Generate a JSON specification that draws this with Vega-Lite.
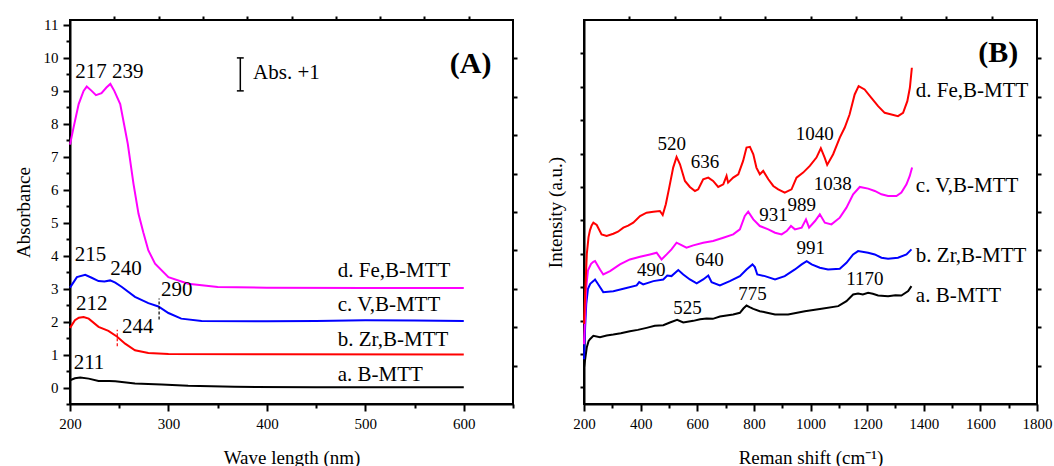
{
  "$schema": "https://vega.github.io/schema/vega-lite/v6.json",
  "padding": {"left": 13, "top": 14, "right": 0, "bottom": 0},
  "spacing": 26,
  "resolve": {"scale": {"color": "independent"}},
  "datasets": {
    "uv": [
      {"sample": "Fe,B-MTT", "nm": 200, "abs": 7.37}, {"sample": "Fe,B-MTT", "nm": 203.7, "abs": 7.9}, {"sample": "Fe,B-MTT", "nm": 208.8, "abs": 8.6}, {"sample": "Fe,B-MTT", "nm": 213.8, "abs": 9.0}, {"sample": "Fe,B-MTT", "nm": 217, "abs": 9.13}, {"sample": "Fe,B-MTT", "nm": 222, "abs": 9.0}, {"sample": "Fe,B-MTT", "nm": 226.4, "abs": 8.87}, {"sample": "Fe,B-MTT", "nm": 232, "abs": 8.93}, {"sample": "Fe,B-MTT", "nm": 237, "abs": 9.1}, {"sample": "Fe,B-MTT", "nm": 241, "abs": 9.21}, {"sample": "Fe,B-MTT", "nm": 245, "abs": 9.0}, {"sample": "Fe,B-MTT", "nm": 251, "abs": 8.6}, {"sample": "Fe,B-MTT", "nm": 258.7, "abs": 7.39}, {"sample": "Fe,B-MTT", "nm": 264.5, "abs": 6.18}, {"sample": "Fe,B-MTT", "nm": 269.6, "abs": 5.27}, {"sample": "Fe,B-MTT", "nm": 274.5, "abs": 4.7}, {"sample": "Fe,B-MTT", "nm": 279.6, "abs": 4.16}, {"sample": "Fe,B-MTT", "nm": 286.4, "abs": 3.76}, {"sample": "Fe,B-MTT", "nm": 300, "abs": 3.35}, {"sample": "Fe,B-MTT", "nm": 320, "abs": 3.15}, {"sample": "Fe,B-MTT", "nm": 350, "abs": 3.05}, {"sample": "Fe,B-MTT", "nm": 400, "abs": 3.03}, {"sample": "Fe,B-MTT", "nm": 500, "abs": 3.02}, {"sample": "Fe,B-MTT", "nm": 600, "abs": 3.02},
      {"sample": "V,B-MTT", "nm": 200, "abs": 3.03}, {"sample": "V,B-MTT", "nm": 207, "abs": 3.35}, {"sample": "V,B-MTT", "nm": 215.5, "abs": 3.42}, {"sample": "V,B-MTT", "nm": 222, "abs": 3.33}, {"sample": "V,B-MTT", "nm": 229, "abs": 3.23}, {"sample": "V,B-MTT", "nm": 235, "abs": 3.22}, {"sample": "V,B-MTT", "nm": 240.8, "abs": 3.25}, {"sample": "V,B-MTT", "nm": 246, "abs": 3.18}, {"sample": "V,B-MTT", "nm": 252.7, "abs": 3.05}, {"sample": "V,B-MTT", "nm": 266, "abs": 2.75}, {"sample": "V,B-MTT", "nm": 279.6, "abs": 2.56}, {"sample": "V,B-MTT", "nm": 289.8, "abs": 2.46}, {"sample": "V,B-MTT", "nm": 300, "abs": 2.26}, {"sample": "V,B-MTT", "nm": 313, "abs": 2.09}, {"sample": "V,B-MTT", "nm": 333.7, "abs": 2.02}, {"sample": "V,B-MTT", "nm": 400, "abs": 2.01}, {"sample": "V,B-MTT", "nm": 450, "abs": 2.02}, {"sample": "V,B-MTT", "nm": 500, "abs": 2.04}, {"sample": "V,B-MTT", "nm": 550, "abs": 2.03}, {"sample": "V,B-MTT", "nm": 600, "abs": 2.02},
      {"sample": "Zr,B-MTT", "nm": 200, "abs": 1.81}, {"sample": "Zr,B-MTT", "nm": 205, "abs": 2.04}, {"sample": "Zr,B-MTT", "nm": 209, "abs": 2.12}, {"sample": "Zr,B-MTT", "nm": 213.8, "abs": 2.14}, {"sample": "Zr,B-MTT", "nm": 219, "abs": 2.09}, {"sample": "Zr,B-MTT", "nm": 229, "abs": 1.84}, {"sample": "Zr,B-MTT", "nm": 239, "abs": 1.72}, {"sample": "Zr,B-MTT", "nm": 247.6, "abs": 1.55}, {"sample": "Zr,B-MTT", "nm": 256, "abs": 1.33}, {"sample": "Zr,B-MTT", "nm": 266, "abs": 1.13}, {"sample": "Zr,B-MTT", "nm": 279.6, "abs": 1.05}, {"sample": "Zr,B-MTT", "nm": 300, "abs": 1.02}, {"sample": "Zr,B-MTT", "nm": 400, "abs": 1.01}, {"sample": "Zr,B-MTT", "nm": 600, "abs": 1.0},
      {"sample": "B-MTT", "nm": 200, "abs": 0.22}, {"sample": "B-MTT", "nm": 205, "abs": 0.28}, {"sample": "B-MTT", "nm": 210.4, "abs": 0.3}, {"sample": "B-MTT", "nm": 219, "abs": 0.27}, {"sample": "B-MTT", "nm": 229, "abs": 0.2}, {"sample": "B-MTT", "nm": 240, "abs": 0.2}, {"sample": "B-MTT", "nm": 246, "abs": 0.19}, {"sample": "B-MTT", "nm": 266, "abs": 0.12}, {"sample": "B-MTT", "nm": 293, "abs": 0.09}, {"sample": "B-MTT", "nm": 320, "abs": 0.05}, {"sample": "B-MTT", "nm": 367, "abs": 0.02}, {"sample": "B-MTT", "nm": 450, "abs": 0.01}, {"sample": "B-MTT", "nm": 600, "abs": 0.01}
    ],
    "raman": [
      {"sample": "B-MTT", "shift": 200, "i": 0.59}, {"sample": "B-MTT", "shift": 205, "i": 0.9}, {"sample": "B-MTT", "shift": 210, "i": 1.2}, {"sample": "B-MTT", "shift": 216, "i": 1.38}, {"sample": "B-MTT", "shift": 221, "i": 1.44}, {"sample": "B-MTT", "shift": 233, "i": 1.54}, {"sample": "B-MTT", "shift": 256.5, "i": 1.5}, {"sample": "B-MTT", "shift": 280, "i": 1.55}, {"sample": "B-MTT", "shift": 303.5, "i": 1.58}, {"sample": "B-MTT", "shift": 330, "i": 1.62}, {"sample": "B-MTT", "shift": 362, "i": 1.68}, {"sample": "B-MTT", "shift": 390, "i": 1.72}, {"sample": "B-MTT", "shift": 421, "i": 1.78}, {"sample": "B-MTT", "shift": 450, "i": 1.84}, {"sample": "B-MTT", "shift": 480, "i": 1.86}, {"sample": "B-MTT", "shift": 503.5, "i": 1.94}, {"sample": "B-MTT", "shift": 529, "i": 2.02}, {"sample": "B-MTT", "shift": 550.6, "i": 1.94}, {"sample": "B-MTT", "shift": 586, "i": 1.99}, {"sample": "B-MTT", "shift": 610, "i": 2.04}, {"sample": "B-MTT", "shift": 633, "i": 2.06}, {"sample": "B-MTT", "shift": 655, "i": 2.05}, {"sample": "B-MTT", "shift": 680, "i": 2.12}, {"sample": "B-MTT", "shift": 727, "i": 2.18}, {"sample": "B-MTT", "shift": 750.6, "i": 2.23}, {"sample": "B-MTT", "shift": 763, "i": 2.36}, {"sample": "B-MTT", "shift": 774, "i": 2.45}, {"sample": "B-MTT", "shift": 785, "i": 2.4}, {"sample": "B-MTT", "shift": 798, "i": 2.35}, {"sample": "B-MTT", "shift": 821, "i": 2.28}, {"sample": "B-MTT", "shift": 839, "i": 2.25}, {"sample": "B-MTT", "shift": 874.7, "i": 2.18}, {"sample": "B-MTT", "shift": 921, "i": 2.18}, {"sample": "B-MTT", "shift": 980, "i": 2.28}, {"sample": "B-MTT", "shift": 1039, "i": 2.35}, {"sample": "B-MTT", "shift": 1098, "i": 2.43}, {"sample": "B-MTT", "shift": 1127, "i": 2.58}, {"sample": "B-MTT", "shift": 1150.6, "i": 2.78}, {"sample": "B-MTT", "shift": 1168, "i": 2.81}, {"sample": "B-MTT", "shift": 1185, "i": 2.78}, {"sample": "B-MTT", "shift": 1203.5, "i": 2.83}, {"sample": "B-MTT", "shift": 1220, "i": 2.8}, {"sample": "B-MTT", "shift": 1238.8, "i": 2.75}, {"sample": "B-MTT", "shift": 1274, "i": 2.73}, {"sample": "B-MTT", "shift": 1300, "i": 2.76}, {"sample": "B-MTT", "shift": 1321, "i": 2.75}, {"sample": "B-MTT", "shift": 1345, "i": 2.88}, {"sample": "B-MTT", "shift": 1356.5, "i": 3.03},
      {"sample": "Zr,B-MTT", "shift": 200, "i": 0.84}, {"sample": "Zr,B-MTT", "shift": 204, "i": 1.8}, {"sample": "Zr,B-MTT", "shift": 208, "i": 2.5}, {"sample": "Zr,B-MTT", "shift": 214, "i": 2.95}, {"sample": "Zr,B-MTT", "shift": 222, "i": 3.1}, {"sample": "Zr,B-MTT", "shift": 233, "i": 3.18}, {"sample": "Zr,B-MTT", "shift": 239, "i": 3.23}, {"sample": "Zr,B-MTT", "shift": 250.6, "i": 3.08}, {"sample": "Zr,B-MTT", "shift": 268, "i": 2.85}, {"sample": "Zr,B-MTT", "shift": 303.5, "i": 2.88}, {"sample": "Zr,B-MTT", "shift": 339, "i": 2.95}, {"sample": "Zr,B-MTT", "shift": 386, "i": 3.05}, {"sample": "Zr,B-MTT", "shift": 395, "i": 3.15}, {"sample": "Zr,B-MTT", "shift": 409, "i": 3.08}, {"sample": "Zr,B-MTT", "shift": 445, "i": 3.18}, {"sample": "Zr,B-MTT", "shift": 480, "i": 3.23}, {"sample": "Zr,B-MTT", "shift": 494, "i": 3.35}, {"sample": "Zr,B-MTT", "shift": 509, "i": 3.33}, {"sample": "Zr,B-MTT", "shift": 533, "i": 3.51}, {"sample": "Zr,B-MTT", "shift": 550.6, "i": 3.38}, {"sample": "Zr,B-MTT", "shift": 574, "i": 3.23}, {"sample": "Zr,B-MTT", "shift": 598, "i": 3.11}, {"sample": "Zr,B-MTT", "shift": 621, "i": 3.23}, {"sample": "Zr,B-MTT", "shift": 639, "i": 3.35}, {"sample": "Zr,B-MTT", "shift": 650.6, "i": 3.15}, {"sample": "Zr,B-MTT", "shift": 680, "i": 3.05}, {"sample": "Zr,B-MTT", "shift": 715, "i": 3.18}, {"sample": "Zr,B-MTT", "shift": 750.6, "i": 3.33}, {"sample": "Zr,B-MTT", "shift": 774, "i": 3.53}, {"sample": "Zr,B-MTT", "shift": 795, "i": 3.68}, {"sample": "Zr,B-MTT", "shift": 803.5, "i": 3.6}, {"sample": "Zr,B-MTT", "shift": 812, "i": 3.38}, {"sample": "Zr,B-MTT", "shift": 839, "i": 3.33}, {"sample": "Zr,B-MTT", "shift": 874.7, "i": 3.23}, {"sample": "Zr,B-MTT", "shift": 909, "i": 3.33}, {"sample": "Zr,B-MTT", "shift": 945, "i": 3.53}, {"sample": "Zr,B-MTT", "shift": 968.8, "i": 3.68}, {"sample": "Zr,B-MTT", "shift": 986.5, "i": 3.78}, {"sample": "Zr,B-MTT", "shift": 1004, "i": 3.68}, {"sample": "Zr,B-MTT", "shift": 1033, "i": 3.58}, {"sample": "Zr,B-MTT", "shift": 1062, "i": 3.53}, {"sample": "Zr,B-MTT", "shift": 1103.5, "i": 3.55}, {"sample": "Zr,B-MTT", "shift": 1127, "i": 3.73}, {"sample": "Zr,B-MTT", "shift": 1150.6, "i": 3.98}, {"sample": "Zr,B-MTT", "shift": 1168, "i": 4.08}, {"sample": "Zr,B-MTT", "shift": 1203.5, "i": 4.03}, {"sample": "Zr,B-MTT", "shift": 1227, "i": 3.98}, {"sample": "Zr,B-MTT", "shift": 1250.6, "i": 3.88}, {"sample": "Zr,B-MTT", "shift": 1274, "i": 3.85}, {"sample": "Zr,B-MTT", "shift": 1309, "i": 3.88}, {"sample": "Zr,B-MTT", "shift": 1339, "i": 3.98}, {"sample": "Zr,B-MTT", "shift": 1356.5, "i": 4.13},
      {"sample": "V,B-MTT", "shift": 200, "i": 1.29}, {"sample": "V,B-MTT", "shift": 204, "i": 2.2}, {"sample": "V,B-MTT", "shift": 208, "i": 3.0}, {"sample": "V,B-MTT", "shift": 214, "i": 3.5}, {"sample": "V,B-MTT", "shift": 225, "i": 3.7}, {"sample": "V,B-MTT", "shift": 233, "i": 3.76}, {"sample": "V,B-MTT", "shift": 239, "i": 3.78}, {"sample": "V,B-MTT", "shift": 256.5, "i": 3.53}, {"sample": "V,B-MTT", "shift": 268, "i": 3.38}, {"sample": "V,B-MTT", "shift": 292, "i": 3.48}, {"sample": "V,B-MTT", "shift": 327, "i": 3.68}, {"sample": "V,B-MTT", "shift": 362, "i": 3.83}, {"sample": "V,B-MTT", "shift": 398, "i": 3.91}, {"sample": "V,B-MTT", "shift": 433, "i": 3.98}, {"sample": "V,B-MTT", "shift": 456.5, "i": 4.03}, {"sample": "V,B-MTT", "shift": 474, "i": 3.83}, {"sample": "V,B-MTT", "shift": 492, "i": 3.98}, {"sample": "V,B-MTT", "shift": 509, "i": 4.13}, {"sample": "V,B-MTT", "shift": 527, "i": 4.33}, {"sample": "V,B-MTT", "shift": 539, "i": 4.28}, {"sample": "V,B-MTT", "shift": 562, "i": 4.18}, {"sample": "V,B-MTT", "shift": 586, "i": 4.25}, {"sample": "V,B-MTT", "shift": 621, "i": 4.33}, {"sample": "V,B-MTT", "shift": 656, "i": 4.38}, {"sample": "V,B-MTT", "shift": 692, "i": 4.48}, {"sample": "V,B-MTT", "shift": 727, "i": 4.58}, {"sample": "V,B-MTT", "shift": 750.6, "i": 4.73}, {"sample": "V,B-MTT", "shift": 768, "i": 5.13}, {"sample": "V,B-MTT", "shift": 780, "i": 5.26}, {"sample": "V,B-MTT", "shift": 798, "i": 5.03}, {"sample": "V,B-MTT", "shift": 821, "i": 4.83}, {"sample": "V,B-MTT", "shift": 851, "i": 4.73}, {"sample": "V,B-MTT", "shift": 874.7, "i": 4.63}, {"sample": "V,B-MTT", "shift": 898, "i": 4.58}, {"sample": "V,B-MTT", "shift": 915.9, "i": 4.68}, {"sample": "V,B-MTT", "shift": 931, "i": 4.83}, {"sample": "V,B-MTT", "shift": 945, "i": 4.73}, {"sample": "V,B-MTT", "shift": 968.8, "i": 4.78}, {"sample": "V,B-MTT", "shift": 984, "i": 5.03}, {"sample": "V,B-MTT", "shift": 995, "i": 4.78}, {"sample": "V,B-MTT", "shift": 1016, "i": 4.98}, {"sample": "V,B-MTT", "shift": 1033, "i": 5.18}, {"sample": "V,B-MTT", "shift": 1050.6, "i": 4.93}, {"sample": "V,B-MTT", "shift": 1074, "i": 4.88}, {"sample": "V,B-MTT", "shift": 1103.5, "i": 5.08}, {"sample": "V,B-MTT", "shift": 1127, "i": 5.38}, {"sample": "V,B-MTT", "shift": 1150.6, "i": 5.78}, {"sample": "V,B-MTT", "shift": 1174, "i": 6.0}, {"sample": "V,B-MTT", "shift": 1203.5, "i": 5.95}, {"sample": "V,B-MTT", "shift": 1227, "i": 5.88}, {"sample": "V,B-MTT", "shift": 1250.6, "i": 5.78}, {"sample": "V,B-MTT", "shift": 1274, "i": 5.73}, {"sample": "V,B-MTT", "shift": 1303.5, "i": 5.73}, {"sample": "V,B-MTT", "shift": 1321, "i": 5.83}, {"sample": "V,B-MTT", "shift": 1339, "i": 6.08}, {"sample": "V,B-MTT", "shift": 1350.6, "i": 6.33}, {"sample": "V,B-MTT", "shift": 1358.8, "i": 6.58},
      {"sample": "Fe,B-MTT", "shift": 200, "i": 1.9}, {"sample": "Fe,B-MTT", "shift": 205, "i": 3.0}, {"sample": "Fe,B-MTT", "shift": 210, "i": 4.0}, {"sample": "Fe,B-MTT", "shift": 216, "i": 4.5}, {"sample": "Fe,B-MTT", "shift": 221, "i": 4.7}, {"sample": "Fe,B-MTT", "shift": 227, "i": 4.85}, {"sample": "Fe,B-MTT", "shift": 233, "i": 4.93}, {"sample": "Fe,B-MTT", "shift": 245, "i": 4.86}, {"sample": "Fe,B-MTT", "shift": 262, "i": 4.58}, {"sample": "Fe,B-MTT", "shift": 280, "i": 4.53}, {"sample": "Fe,B-MTT", "shift": 303.5, "i": 4.6}, {"sample": "Fe,B-MTT", "shift": 320, "i": 4.66}, {"sample": "Fe,B-MTT", "shift": 339, "i": 4.78}, {"sample": "Fe,B-MTT", "shift": 356, "i": 4.84}, {"sample": "Fe,B-MTT", "shift": 374, "i": 4.93}, {"sample": "Fe,B-MTT", "shift": 398, "i": 5.13}, {"sample": "Fe,B-MTT", "shift": 421, "i": 5.23}, {"sample": "Fe,B-MTT", "shift": 445, "i": 5.26}, {"sample": "Fe,B-MTT", "shift": 468, "i": 5.28}, {"sample": "Fe,B-MTT", "shift": 478, "i": 5.16}, {"sample": "Fe,B-MTT", "shift": 489, "i": 5.48}, {"sample": "Fe,B-MTT", "shift": 501, "i": 5.98}, {"sample": "Fe,B-MTT", "shift": 515, "i": 6.58}, {"sample": "Fe,B-MTT", "shift": 527, "i": 6.9}, {"sample": "Fe,B-MTT", "shift": 539, "i": 6.68}, {"sample": "Fe,B-MTT", "shift": 556.5, "i": 6.18}, {"sample": "Fe,B-MTT", "shift": 574, "i": 6.0}, {"sample": "Fe,B-MTT", "shift": 592, "i": 5.88}, {"sample": "Fe,B-MTT", "shift": 603.5, "i": 5.93}, {"sample": "Fe,B-MTT", "shift": 621, "i": 6.23}, {"sample": "Fe,B-MTT", "shift": 639, "i": 6.28}, {"sample": "Fe,B-MTT", "shift": 656, "i": 6.18}, {"sample": "Fe,B-MTT", "shift": 674, "i": 6.0}, {"sample": "Fe,B-MTT", "shift": 692, "i": 6.08}, {"sample": "Fe,B-MTT", "shift": 703.5, "i": 6.33}, {"sample": "Fe,B-MTT", "shift": 709, "i": 6.13}, {"sample": "Fe,B-MTT", "shift": 727, "i": 6.28}, {"sample": "Fe,B-MTT", "shift": 745, "i": 6.38}, {"sample": "Fe,B-MTT", "shift": 762, "i": 6.78}, {"sample": "Fe,B-MTT", "shift": 774, "i": 7.18}, {"sample": "Fe,B-MTT", "shift": 786, "i": 7.2}, {"sample": "Fe,B-MTT", "shift": 798, "i": 6.98}, {"sample": "Fe,B-MTT", "shift": 809, "i": 6.58}, {"sample": "Fe,B-MTT", "shift": 821, "i": 6.38}, {"sample": "Fe,B-MTT", "shift": 833, "i": 6.48}, {"sample": "Fe,B-MTT", "shift": 851, "i": 6.23}, {"sample": "Fe,B-MTT", "shift": 868.5, "i": 6.03}, {"sample": "Fe,B-MTT", "shift": 886, "i": 5.93}, {"sample": "Fe,B-MTT", "shift": 909, "i": 5.83}, {"sample": "Fe,B-MTT", "shift": 933, "i": 5.93}, {"sample": "Fe,B-MTT", "shift": 950.6, "i": 6.28}, {"sample": "Fe,B-MTT", "shift": 974, "i": 6.43}, {"sample": "Fe,B-MTT", "shift": 997.6, "i": 6.63}, {"sample": "Fe,B-MTT", "shift": 1021, "i": 6.88}, {"sample": "Fe,B-MTT", "shift": 1036.5, "i": 7.16}, {"sample": "Fe,B-MTT", "shift": 1050, "i": 6.88}, {"sample": "Fe,B-MTT", "shift": 1059, "i": 6.66}, {"sample": "Fe,B-MTT", "shift": 1080, "i": 6.98}, {"sample": "Fe,B-MTT", "shift": 1103.5, "i": 7.48}, {"sample": "Fe,B-MTT", "shift": 1121, "i": 7.78}, {"sample": "Fe,B-MTT", "shift": 1138, "i": 8.17}, {"sample": "Fe,B-MTT", "shift": 1156, "i": 8.77}, {"sample": "Fe,B-MTT", "shift": 1170, "i": 9.02}, {"sample": "Fe,B-MTT", "shift": 1191, "i": 8.92}, {"sample": "Fe,B-MTT", "shift": 1215, "i": 8.67}, {"sample": "Fe,B-MTT", "shift": 1238.8, "i": 8.42}, {"sample": "Fe,B-MTT", "shift": 1262, "i": 8.22}, {"sample": "Fe,B-MTT", "shift": 1285.9, "i": 8.17}, {"sample": "Fe,B-MTT", "shift": 1309, "i": 8.12}, {"sample": "Fe,B-MTT", "shift": 1327, "i": 8.22}, {"sample": "Fe,B-MTT", "shift": 1342, "i": 8.57}, {"sample": "Fe,B-MTT", "shift": 1351, "i": 8.97}, {"sample": "Fe,B-MTT", "shift": 1358, "i": 9.57}
    ]
  },
  "hconcat": [
    {
      "width": 443,
      "height": 384,
      "resolve": {"axis": {"x": "independent", "y": "independent"}},
      "layer": [
        {
          "data": {"name": "uv"},
          "mark": {"type": "line", "strokeWidth": 2},
          "encoding": {
            "x": {"field": "nm", "type": "quantitative", "scale": {"domain": [200, 650], "nice": false, "zero": false},
              "axis": {"orient": "bottom", "title": "Wave length (nm)", "titlePadding": 17,
                "values": [200, 250, 300, 350, 400, 450, 500, 550, 600, 650],
                "labelExpr": "datum.value % 100 === 0 && datum.value <= 600 ? '' + datum.value : ''",
                "tickSize": {"condition": {"test": "datum.value % 100 === 0", "value": 7}, "value": 4}}},
            "y": {"field": "abs", "type": "quantitative", "scale": {"domain": [-0.5, 11.15], "nice": false, "zero": false},
              "axis": {"orient": "left", "title": "Absorbance", "titlePadding": 10,
                "values": [-0.5, 0, 0.5, 1, 1.5, 2, 2.5, 3, 3.5, 4, 4.5, 5, 5.5, 6, 6.5, 7, 7.5, 8, 8.5, 9, 9.5, 10, 10.5, 11],
                "labelExpr": "datum.value % 1 === 0 ? '' + datum.value : ''",
                "tickSize": {"condition": {"test": "datum.value % 1 === 0", "value": 7}, "value": 4}}},
            "color": {"field": "sample", "type": "nominal", "legend": null,
              "scale": {"domain": ["B-MTT", "Zr,B-MTT", "V,B-MTT", "Fe,B-MTT"], "range": ["#000000", "#ff0000", "#0000ff", "#ff00ff"]}}
          }
        },
        {
          "data": {"values": [
            {"x": 373, "x2": 373, "y": 9, "y2": 10},
            {"x": 369.5, "x2": 376.5, "y": 10, "y2": 10},
            {"x": 369.5, "x2": 376.5, "y": 9, "y2": 9}
          ]},
          "mark": {"type": "rule", "color": "#000000", "strokeWidth": 1.5},
          "encoding": {
            "x": {"field": "x", "type": "quantitative", "scale": {"domain": [200, 650], "nice": false, "zero": false},
              "axis": {"orient": "top", "title": null, "labels": false, "tickSize": 4, "domain": false,
                "values": [245, 290, 335, 380, 425, 470, 515, 560, 605]}},
            "x2": {"field": "x2"},
            "y": {"field": "y", "type": "quantitative", "scale": {"domain": [-0.5, 11.15], "nice": false, "zero": false},
              "axis": {"orient": "right", "title": null, "labels": false, "tickSize": 4, "domain": false,
                "values": [0.665, 1.83, 2.995, 4.16, 5.325, 6.49, 7.655, 8.82, 9.985]}},
            "y2": {"field": "y2"}
          }
        },
        {
          "data": {"values": [{"x": 248, "y": 1.25, "y2": 1.75}]},
          "mark": {"type": "rule", "color": "#ff0000", "strokeWidth": 1.2, "strokeDash": [3, 2]},
          "encoding": {
            "x": {"field": "x", "type": "quantitative", "axis": null},
            "y": {"field": "y", "type": "quantitative", "axis": null},
            "y2": {"field": "y2"}
          }
        },
        {
          "data": {"values": [{"x": 290.5, "y": 2.06, "y2": 2.7}]},
          "mark": {"type": "rule", "color": "#000000", "strokeWidth": 1.2, "strokeDash": [3, 2]},
          "encoding": {
            "x": {"field": "x", "type": "quantitative", "axis": null},
            "y": {"field": "y", "type": "quantitative", "axis": null},
            "y2": {"field": "y2"}
          }
        },
        {
          "data": {"values": [
            {"t": "217 239", "x": 205.4, "y": 9.56},
            {"t": "215", "x": 204.7, "y": 4.01},
            {"t": "240", "x": 240.8, "y": 3.6},
            {"t": "290", "x": 292.5, "y": 2.95},
            {"t": "212", "x": 206, "y": 2.52},
            {"t": "244", "x": 252.7, "y": 1.84},
            {"t": "211", "x": 203.7, "y": 0.73},
            {"t": "d. Fe,B-MTT", "x": 472, "y": 3.55},
            {"t": "c. V,B-MTT", "x": 472, "y": 2.49},
            {"t": "b. Zr,B-MTT", "x": 472, "y": 1.45},
            {"t": "a. B-MTT", "x": 472, "y": 0.37},
            {"t": "Abs. +1", "x": 386, "y": 9.55}
          ]},
          "mark": {"type": "text", "align": "left", "baseline": "middle", "font": "Liberation Serif", "fontSize": 21, "color": "#000000"},
          "encoding": {
            "x": {"field": "x", "type": "quantitative", "axis": null},
            "y": {"field": "y", "type": "quantitative", "axis": null},
            "text": {"field": "t"}
          }
        },
        {
          "data": {"values": [{"t": "(A)", "x": 607, "y": 9.83}]},
          "mark": {"type": "text", "align": "center", "baseline": "middle", "font": "Liberation Serif", "fontSize": 30, "fontWeight": "bold", "color": "#000000"},
          "encoding": {
            "x": {"field": "x", "type": "quantitative", "axis": null},
            "y": {"field": "y", "type": "quantitative", "axis": null},
            "text": {"field": "t"}
          }
        }
      ]
    },
    {
      "width": 453,
      "height": 384,
      "resolve": {"axis": {"x": "independent", "y": "independent"}},
      "layer": [
        {
          "data": {"name": "raman"},
          "mark": {"type": "line", "strokeWidth": 2},
          "encoding": {
            "x": {"field": "shift", "type": "quantitative", "scale": {"domain": [200, 1800], "nice": false, "zero": false},
              "axis": {"orient": "bottom", "title": "Reman shift (cm⁻¹)", "titlePadding": 17,
                "values": [200, 300, 400, 500, 600, 700, 800, 900, 1000, 1100, 1200, 1300, 1400, 1500, 1600, 1700, 1800],
                "labelExpr": "datum.value % 200 === 0 ? '' + datum.value : ''",
                "tickSize": {"condition": {"test": "datum.value % 200 === 0", "value": 7}, "value": 4}}},
            "y": {"field": "i", "type": "quantitative", "scale": {"domain": [-0.5, 11], "nice": false, "zero": false},
              "axis": {"orient": "left", "title": "Intensity (a.u.)", "titlePadding": 14, "labels": false, "tickSize": 4,
                "values": [0, 1, 2, 3, 4, 5, 6, 7, 8, 9, 10]}},
            "color": {"field": "sample", "type": "nominal", "legend": null,
              "scale": {"domain": ["B-MTT", "Zr,B-MTT", "V,B-MTT", "Fe,B-MTT"], "range": ["#000000", "#0000ff", "#ff00ff", "#ff0000"]}}
          }
        },
        {
          "data": {"values": [
            {"t": "d. Fe,B-MTT", "x": 1372, "y": 8.87},
            {"t": "c. V,B-MTT", "x": 1372, "y": 6.03},
            {"t": "b. Zr,B-MTT", "x": 1372, "y": 3.93},
            {"t": "a. B-MTT", "x": 1372, "y": 2.73}
          ]},
          "mark": {"type": "text", "align": "left", "baseline": "middle", "font": "Liberation Serif", "fontSize": 21, "color": "#000000"},
          "encoding": {
            "x": {"field": "x", "type": "quantitative", "scale": {"domain": [200, 1800], "nice": false, "zero": false},
              "axis": {"orient": "top", "title": null, "labels": false, "tickSize": 4, "domain": false,
                "values": [360, 520, 680, 840, 1000, 1160, 1320, 1480, 1640]}},
            "y": {"field": "y", "type": "quantitative", "scale": {"domain": [-0.5, 11], "nice": false, "zero": false},
              "axis": {"orient": "right", "title": null, "labels": false, "tickSize": 4, "domain": false,
                "values": [0.65, 1.8, 2.95, 4.1, 5.25, 6.4, 7.55, 8.7, 9.85]}},
            "text": {"field": "t"}
          }
        },
        {
          "data": {"values": [
            {"t": "520", "x": 509.5, "y": 7.28},
            {"t": "636", "x": 627, "y": 6.76},
            {"t": "1040", "x": 1014.7, "y": 7.58},
            {"t": "1038", "x": 1079, "y": 6.08},
            {"t": "931", "x": 869.5, "y": 5.16},
            {"t": "989", "x": 969.5, "y": 5.46},
            {"t": "490", "x": 437.7, "y": 3.5},
            {"t": "640", "x": 643, "y": 3.81},
            {"t": "525", "x": 566, "y": 2.38},
            {"t": "775", "x": 794.8, "y": 2.79},
            {"t": "991", "x": 1000.6, "y": 4.16},
            {"t": "1170", "x": 1192, "y": 3.23}
          ]},
          "mark": {"type": "text", "align": "center", "baseline": "middle", "font": "Liberation Serif", "fontSize": 19, "color": "#000000"},
          "encoding": {
            "x": {"field": "x", "type": "quantitative", "axis": null},
            "y": {"field": "y", "type": "quantitative", "axis": null},
            "text": {"field": "t"}
          }
        },
        {
          "data": {"values": [{"t": "(B)", "x": 1663, "y": 10.02}]},
          "mark": {"type": "text", "align": "center", "baseline": "middle", "font": "Liberation Serif", "fontSize": 30, "fontWeight": "bold", "color": "#000000"},
          "encoding": {
            "x": {"field": "x", "type": "quantitative", "axis": null},
            "y": {"field": "y", "type": "quantitative", "axis": null},
            "text": {"field": "t"}
          }
        }
      ]
    }
  ],
  "config": {
    "font": "Liberation Serif",
    "view": {"stroke": "#000000", "strokeWidth": 2},
    "axis": {
      "domainColor": "#000000", "domainWidth": 2, "tickColor": "#000000", "tickWidth": 2,
      "labelFont": "Liberation Serif", "labelFontSize": 15, "labelColor": "#000000", "labelPadding": 5,
      "titleFont": "Liberation Serif", "titleFontSize": 19, "titleFontWeight": "normal", "titleColor": "#000000",
      "grid": false, "labelFlush": false, "labelOverlap": false, "labelBound": false
    }
  }
}
